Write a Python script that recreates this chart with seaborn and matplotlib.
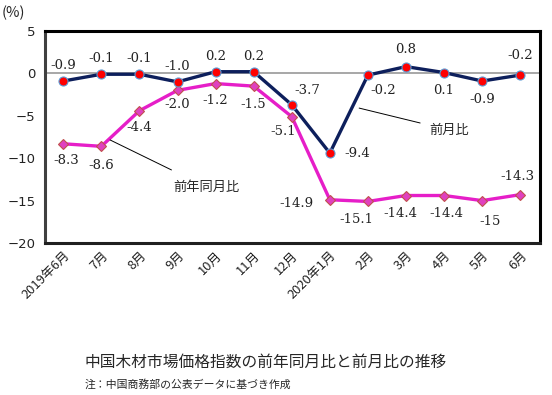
import matplotlib
matplotlib.use("Agg")
import matplotlib.pyplot as plt
import seaborn as sns
import pandas as pd
import numpy as np

months = ["2019年6月", "7月", "8月", "9月", "10月", "11月", "12月",
          "2020年1月", "2月", "3月", "4月", "5月", "6月"]
mom = [-0.9, -0.1, -0.1, -1.0, 0.2, 0.2, -3.7, -9.4, -0.2, 0.8, 0.1, -0.9, -0.2]
yoy = [-8.3, -8.6, -4.4, -2.0, -1.2, -1.5, -5.1, -14.9, -15.1, -14.4, -14.4, -15.0, -14.3]
mom_labels = ["-0.9", "-0.1", "-0.1", "-1.0", "0.2", "0.2", "-3.7", "-9.4",
              "-0.2", "0.8", "0.1", "-0.9", "-0.2"]
yoy_labels = ["-8.3", "-8.6", "-4.4", "-2.0", "-1.2", "-1.5", "-5.1", "-14.9",
              "-15.1", "-14.4", "-14.4", "-15", "-14.3"]
yticks = [5, 0, -5, -10, -15, -20]

sns.set_theme(style="white")
plt.rcParams['font.family'] = ['Noto Sans CJK JP', 'DejaVu Sans']

df = pd.DataFrame({"idx": np.arange(len(months)), "mom": mom, "yoy": yoy})

fig = plt.figure(figsize=(5.52, 3.95), dpi=100)
ax = fig.add_axes([45/552, 1-243/395, 495/552, 212/395])

ax.axhline(0, color="#a0a0a0", lw=1.3, zorder=1)

sns.lineplot(data=df, x="idx", y="yoy", ax=ax, color="#e61ec8", lw=2.4,
             marker="D", markersize=5.5, markerfacecolor="#e040c0",
             markeredgecolor="#c0504d", markeredgewidth=0.8, zorder=3)
sns.lineplot(data=df, x="idx", y="mom", ax=ax, color="#0d1f5c", lw=2.4,
             marker="o", markersize=6.5, markerfacecolor="#ff0000",
             markeredgecolor="#5b9bd5", markeredgewidth=0.8, zorder=4)

ax.set_xlim(-0.48, 12.52)
ax.set_ylim(-20, 5)
ax.set_yticks(yticks)
ax.set_yticklabels([str(t) if t >= 0 else "\u2212" + str(-t) for t in yticks],
                   fontsize=9.5, family=['DejaVu Sans'], color="#222222")
ax.set_xticks(df["idx"])
ax.set_xticklabels(months, rotation=45, ha="right", rotation_mode="anchor",
                   fontsize=9.3, color="#222222")
ax.tick_params(axis="x", length=0, pad=4)
ax.tick_params(axis="y", length=0, pad=7)
ax.set_xlabel("")
ax.set_ylabel("")
for s in ax.spines.values():
    s.set_color("black")
    s.set_linewidth(2.2)
ax.spines["left"].set_color("#404040")
ax.spines["bottom"].set_color("#202020")

# label offsets (points)
mom_off = [(0, 11), (0, 11), (0, 11), (0, 11), (0, 11), (0, 11), (11, 10),
           (20, 0), (11, -11), (0, 12), (0, -13), (0, -13), (0, 14)]
yoy_off = [(2, -12), (0, -14), (0, -12), (0, -10), (0, -12), (0, -13), (-6, -11),
           (-24, -3), (-8, -13), (-4, -13), (2, -13), (6, -15), (-2, 13)]
sfont = ['DejaVu Serif']
for i in range(len(months)):
    ax.annotate(mom_labels[i], (i, mom[i]), xytext=mom_off[i], textcoords="offset points",
                ha="center", va="center", fontsize=9.5, family=sfont, color="#222222")
    ax.annotate(yoy_labels[i], (i, yoy[i]), xytext=yoy_off[i], textcoords="offset points",
                ha="center", va="center", fontsize=9.5, family=sfont, color="#222222")

ax.annotate("前月比", xy=(7.77, -4.09), xytext=(9.6, -6.67),
            ha="left", va="center", fontsize=9.5,
            arrowprops=dict(arrowstyle="-", color="black", lw=0.7, shrinkA=4, shrinkB=0))
ax.annotate("前年同月比", xy=(1.23, -7.85), xytext=(2.89, -13.4),
            ha="left", va="center", fontsize=9.5,
            arrowprops=dict(arrowstyle="-", color="black", lw=0.7, shrinkA=12, shrinkB=0))

fig.text(2/552, 1-13/395, "(%)", fontsize=10.5, ha="left", va="center")
fig.text(85/552, 1-362/395, "中国木材市場価格指数の前年同月比と前月比の推移",
         fontsize=11.3, ha="left", va="center")
fig.text(85/552, 1-384/395, "注：中国商務部の公表データに基づき作成",
         fontsize=7.8, ha="left", va="center")

fig.savefig("out.png", dpi=100)
